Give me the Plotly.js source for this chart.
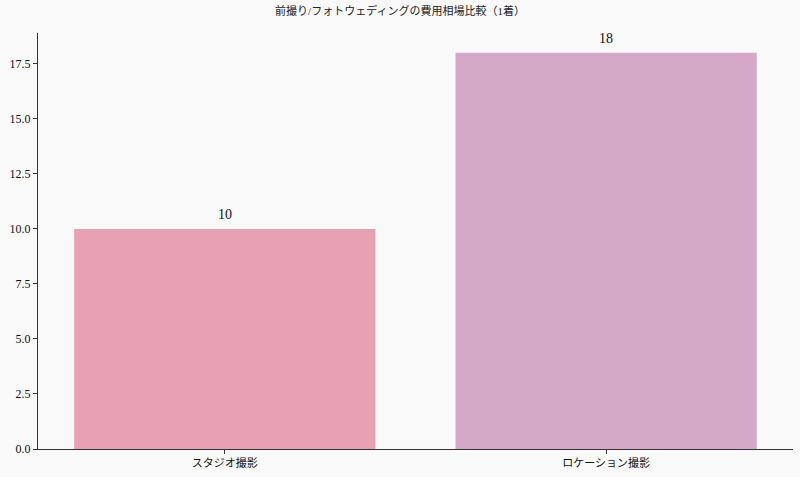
<!DOCTYPE html>
<html><head><meta charset="utf-8">
<script src="https://cdn.plot.ly/plotly-3.0.1.min.js"></script>
<style>html,body{margin:0;padding:0;background:#f9f9f9;}#c{width:800px;height:477px;}</style>
</head><body><div id="c"></div>
<script>
const categories = ["スタジオ撮影", "ロケーション撮影"];
const values = [10, 18];
const barColors = ["#e8a0b3", "#d4a9c8"];
const yTicks = [0, 2.5, 5, 7.5, 10, 12.5, 15, 17.5];
const yTickLabels = ["0.0", "2.5", "5.0", "7.5", "10.0", "12.5", "15.0", "17.5"];
const titleText = "前撮り/フォトウェディングの費用相場比較（1着）";

const fontFam = "'Liberation Serif', 'DejaVu Serif', 'Noto Sans CJK JP', serif";
const xs = categories.map((c, i) => i);
Plotly.newPlot("c", [{
  type: "bar",
  x: xs,
  y: values,
  width: 0.79,
  marker: {color: barColors, line: {width: 0}},
  hoverinfo: "none"
}], {
  width: 800, height: 477,
  margin: {l: 38, r: 7, t: 33, b: 28},
  paper_bgcolor: "#f9f9f9", plot_bgcolor: "#f9f9f9",
  title: {text: titleText, x: 0.5, xanchor: "center", y: 0.985, yanchor: "top",
          font: {family: fontFam, size: 11, color: "#222"}},
  showlegend: false,
  annotations: values.map((v, i) => ({
    x: xs[i], y: v, xref: "x", yref: "y", text: String(v), showarrow: false,
    yanchor: "bottom", yshift: 5, font: {family: fontFam, size: 14, color: "#111"}
  })),
  xaxis: {range: [-0.49, 1.49], tickvals: xs, ticktext: categories,
          showline: true, linecolor: "#333", linewidth: 1, ticks: "outside", ticklen: 4,
          tickcolor: "#333", showgrid: false, zeroline: false,
          tickfont: {family: fontFam, size: 11, color: "#111"}},
  yaxis: {range: [0, 18.9], tickvals: yTicks, ticktext: yTickLabels,
          showline: true, linecolor: "#333", linewidth: 1, ticks: "outside", ticklen: 4,
          tickcolor: "#333", showgrid: false, zeroline: false,
          tickfont: {family: fontFam, size: 12, color: "#111"}}
}, {displayModeBar: false, staticPlot: true});
</script></body></html>
